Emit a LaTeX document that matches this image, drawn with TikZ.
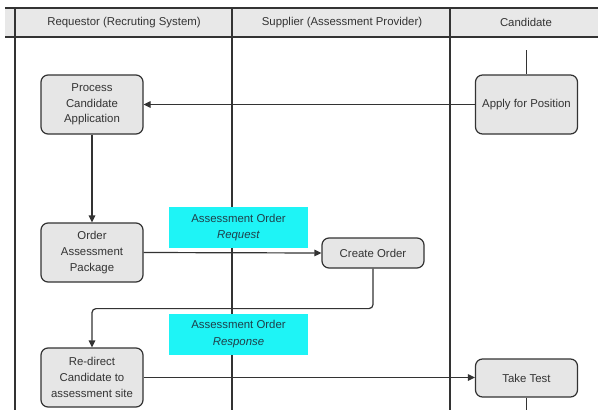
\documentclass[tikz,border=0pt]{standalone}
\usepackage{fontspec}
\setmainfont{Liberation Sans}
\usetikzlibrary{arrows.meta}
\definecolor{linec}{HTML}{333333}
\definecolor{boxfill}{HTML}{E6E6E6}
\definecolor{headfill}{HTML}{E8E8E8}
\definecolor{lblcyan}{HTML}{1EF4F6}
\definecolor{txtc}{HTML}{333333}
\definecolor{lbltxt}{HTML}{1F3F4A}
\tikzset{
  stepbox/.style={draw=linec, line width=1.2pt, fill=boxfill, rounded corners=7pt,
    minimum width=102pt, minimum height=59pt, align=center, text=txtc,
    font=\fontsize{11.4}{15.6}\selectfont, inner sep=2pt},
  smallbox/.style={stepbox, minimum height=30pt},
  testbox/.style={stepbox, minimum height=38pt},
  msgbox/.style={fill=lblcyan, minimum width=139pt, minimum height=41pt, align=center,
    text=lbltxt, font=\fontsize{11.4}{16.5}\selectfont, inner sep=1pt},
  headtxt/.style={text=txtc, font=\fontsize{11.4}{14}\selectfont},
  lane/.style={draw=linec, line width=1.1pt},
  conn/.style={draw=linec, line width=1.2pt},
  arr/.style={conn, -{Triangle[length=7pt,width=6.5pt]}}
}
\begin{document}
\begin{tikzpicture}[x=1pt,y=-1pt]
\useasboundingbox (0,0) rectangle (598,410);
\fill[white] (0,0) rectangle (598,410);
% header
\fill[headfill] (5,8) rectangle (598,37);
\draw[lane] (5,8) -- (598,8);
\draw[lane] (5,37) -- (598,37);
\coordinate (l1t) at (15,8);   \coordinate (l1b) at (15,410);
\coordinate (l2t) at (232,8);  \coordinate (l2b) at (232,410);
\coordinate (l3t) at (450,8);  \coordinate (l3b) at (450,410);
\draw[lane] (l1t) -- (l1b);
\draw[lane] (l2t) -- (l2b);
\draw[lane] (l3t) -- (l3b);
\node[headtxt] (h1) at (124,22.5) {Requestor (Recruting System)};
\node[headtxt] (h2) at (342,22.5) {Supplier (Assessment Provider)};
\node[headtxt] (h3) at (526,22.5) {Candidate};
% message labels
\node[msgbox] (req) at (238.5,227.5) {Assessment Order\\\textit{Request}};
\node[msgbox] (resp) at (238.5,334) {Assessment Order\\\textit{Response}};
% steps
\node[stepbox] (proc) at (92,104.5) {Process\\Candidate\\Application};
\node[stepbox] (apply) at (526.5,104.5) {Apply for Position};
\node[stepbox] (order) at (92,252.5) {Order\\Assessment\\Package};
\node[smallbox] (create) at (373,253) {Create Order};
\node[stepbox] (redir) at (92,377.5) {Re-direct\\Candidate to\\assessment site};
\node[testbox] (take) at (526.5,378) {Take Test};
% connectors
\coordinate (a0) at (526.5,50);
\coordinate (t0) at (526.5,410);
\draw[conn] (a0) -- (apply.north);
\draw[arr] (apply.west) -- (proc.east);
\draw[arr] (proc.south) -- (order.north);
\draw[arr] (order.east) -- (create.west);
\draw[arr, rounded corners=4pt] (create.south) -- ++(0,40) -| (redir.north);
\draw[arr] (redir.east) -- (take.west |- redir.east);
\draw[conn] (take.south) -- (t0);
\end{tikzpicture}
\end{document}
